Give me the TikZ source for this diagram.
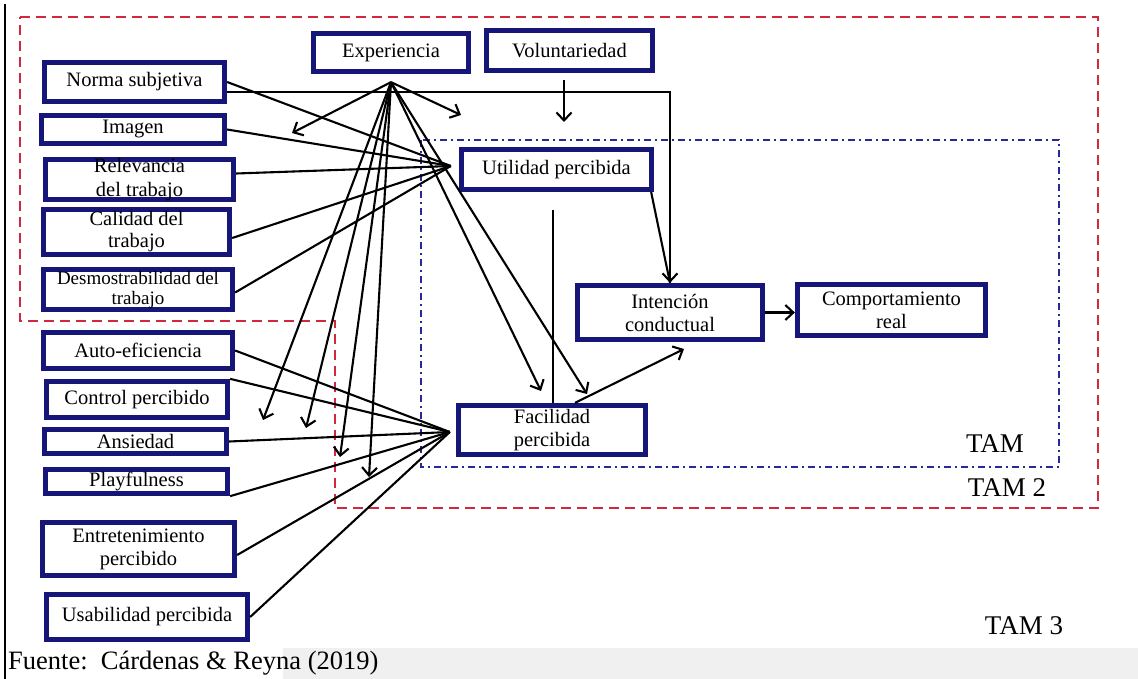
\documentclass[tikz,border=0pt]{standalone}
\usepackage{fontspec}
\setmainfont{Liberation Serif}
\usetikzlibrary{arrows.meta}

\definecolor{boxblue}{RGB}{22,22,120}
\definecolor{tamred}{RGB}{208,40,62}
\definecolor{tamblue}{RGB}{40,40,150}

\begin{document}
\begin{tikzpicture}[x=1pt,y=-1pt,
  box/.style={draw=boxblue, line width=4.8pt, fill=white, inner sep=0pt},
  boxtext/.style={font=\fontsize{20.5}{23}\selectfont, align=center, inner sep=0pt, text=black},
  smalltext/.style={boxtext, font=\fontsize{19}{20}\selectfont},
  link/.style={draw=black, line width=2.1pt},
  arr/.style={link, -{Straight Barb[length=8pt,width=15pt]}},
  tamframe/.style={draw=tamred, line width=2.6pt, dash pattern=on 10pt off 6pt},
  tamoneframe/.style={draw=tamblue, line width=2.6pt, dash pattern=on 7pt off 4pt on 2pt off 4pt},
  tamlabel/.style={font=\fontsize{27}{30}\selectfont, inner sep=0pt},
]
\useasboundingbox (0,0) rectangle (1138,679);

% scanned page footer band
\fill[black!6] (283,648) rectangle (1138,679);
% page margin rule
\draw[line width=1.5pt] (5,4) -- (5,679);

% model frames
\draw[tamframe] (20,17) -- (1098,17) -- (1098,508) -- (335,508) -- (335,321) -- (20,321) -- cycle;
\draw[tamoneframe] (421,140) rectangle (1059,467);

% determinants of perceived usefulness
\node[box, minimum width=180.5pt, minimum height=39.5pt, label={[boxtext]center:Norma subjetiva}] (norma) at (134.5,82) {};
\node[box, minimum width=183.5pt, minimum height=28.5pt, label={[boxtext]center:Imagen}] (imagen) at (133,129.5) {};
\node[box, minimum width=188.5pt, minimum height=40.5pt, label={[boxtext, font=\fontsize{20.5}{24}\selectfont]center:{Relevancia\\del trabajo}}] (relev) at (139.5,179.5) {};
\node[box, minimum width=186.5pt, minimum height=45.5pt, label={[boxtext, font=\fontsize{20.5}{22}\selectfont]center:{Calidad del\\trabajo}}] (calidad) at (136.5,232) {};
\node[box, minimum width=189.5pt, minimum height=40.5pt, label={[smalltext]center:{Desmostrabilidad del\\trabajo}}] (desmo) at (138,289.5) {};

% determinants of perceived ease of use
\node[box, minimum width=189.5pt, minimum height=36.5pt, label={[boxtext]center:Auto-eficiencia}] (auto) at (138,350.5) {};
\node[box, minimum width=181.5pt, minimum height=36.5pt, label={[boxtext]center:Control percibido}] (control) at (137,399.5) {};
\node[box, minimum width=182.5pt, minimum height=24.5pt, label={[boxtext]center:Ansiedad}] (ansiedad) at (135.5,441.5) {};
\node[box, minimum width=182.5pt, minimum height=24.5pt, label={[boxtext]center:Playfulness}] (playful) at (136.5,481.5) {};
\node[box, minimum width=192.5pt, minimum height=53.5pt, label={[boxtext]center:{Entretenimiento\\percibido}}] (entret) at (138.5,549) {};
\node[box, minimum width=201.5pt, minimum height=45.5pt, label={[boxtext]center:Usabilidad percibida}] (usab) at (147,617) {};

% moderators
\node[box, minimum width=155.5pt, minimum height=38.5pt, label={[boxtext]center:Experiencia}] (exp) at (391,52.5) {};
\node[box, minimum width=166.5pt, minimum height=40.5pt, label={[boxtext]center:Voluntariedad}] (vol) at (569.5,50.5) {};

% core model
\node[box, minimum width=190.5pt, minimum height=40.5pt, label={[boxtext]center:Utilidad percibida}] (util) at (556.5,169.5) {};
\node[box, minimum width=187.5pt, minimum height=49.5pt, label={[boxtext]center:{Facilidad\\percibida}}] (facil) at (552,430) {};
\node[box, minimum width=185.5pt, minimum height=54.5pt, label={[boxtext]center:{Intención\\conductual}}] (intenc) at (670,312.5) {};
\node[box, minimum width=188.5pt, minimum height=51.5pt, label={[boxtext]center:{Comportamiento\\real}}] (comp) at (891.5,310) {};

% convergence points and free arrow ends
\coordinate (uin) at ([xshift=-8pt,yshift=3.5pt]util.west);
\coordinate (fin) at ([xshift=-6pt,yshift=-2pt]facil.west);
\coordinate (e0) at ([yshift=-8pt]exp.south);
\coordinate (a1) at (292,133);
\coordinate (a2) at (461,115);
\coordinate (a3) at (263,420);
\coordinate (a4) at (306,428);
\coordinate (a5) at (340,457);
\coordinate (a6) at (369,477);
\coordinate (a7) at (541,391);
\coordinate (a8) at (587,394);
\coordinate (vtip) at ([xshift=-5.5pt]vol.south |- 0,122);
\coordinate (ftop) at ([xshift=1pt]facil.north |- 0,210);
\coordinate (ftip) at (684,349);

% inputs to perceived usefulness
\draw[link] (norma.east) -- (uin);
\draw[link] (imagen.east) -- (uin);
\draw[link] ([yshift=6pt]relev.east) -- (uin);
\draw[link] ([yshift=-6pt]calidad.east) -- (uin);
\draw[link] ([yshift=-3pt]desmo.east) -- (uin);

% inputs to perceived ease of use
\draw[link] (auto.east) -- (fin);
\draw[link] (control.north east) -- (fin);
\draw[link] (ansiedad.east) -- (fin);
\draw[link] (playful.south east) -- (fin);
\draw[link] ([yshift=-6pt]entret.east) -- (fin);
\draw[link] (usab.east) -- (fin);

% moderating effect of experience
\foreach \t in {a1,a2,a3,a4,a5,a6,a7,a8}
  \draw[arr] (e0) -- (\t);

% moderating effect of voluntariness
\draw[arr] ([xshift=-5.5pt,yshift=-7pt]vol.south) -- (vtip);

% subjective norm to intention
\draw[arr] ([yshift=-10pt]norma.east) -| (intenc.north);
\draw[link] ([xshift=-3pt]util.south east) -- (intenc.north);

% ease of use links
\draw[link] ([xshift=1pt]facil.north) -- (ftop);
\draw[arr] ([xshift=23pt]facil.north) -- (ftip);

% intention to behaviour
\draw[arr] (intenc.east) -- (intenc.east -| comp.west);

% model labels and source
\node[tamlabel] (tam) at (995,444) {TAM};
\node[tamlabel] (tam2) at (1007,488) {TAM 2};
\node[tamlabel] (tam3) at (1024,626) {TAM 3};
\node[anchor=base west, inner sep=0pt, font=\fontsize{26.5}{30}\selectfont] (fuente) at (8,669) {Fuente:\ \ Cárdenas \& Reyna (2019)};
\end{tikzpicture}
\end{document}
